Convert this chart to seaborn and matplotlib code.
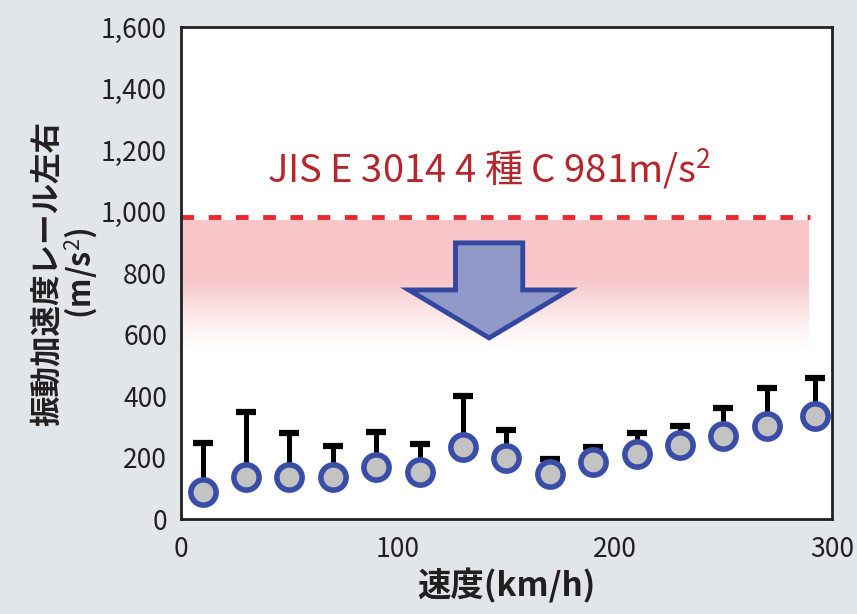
import numpy as np
import pandas as pd
import matplotlib
matplotlib.use("Agg")
import matplotlib.pyplot as plt
import matplotlib.patches as mpatches
import seaborn as sns

# data
speed = [10, 30, 50, 70, 90, 110, 130, 150, 170, 190, 210, 230, 250, 270, 292]
accel_mean = [89, 136, 136, 138, 170, 154, 235, 200, 146, 186, 211, 241, 270, 302, 335]
accel_max = [247, 349, 279, 237, 284, 244, 400, 289, 194, 235, 281, 302, 360, 425, 457]
limit = 981
limit_label = "JIS E 3014 4 種 C 981m/s$^2$"

df = pd.DataFrame({"speed": speed, "mean": accel_mean, "max": accel_max})

sns.set_theme(style="white")
plt.rcParams["font.family"] = ["Noto Sans CJK JP", "DejaVu Sans"]
plt.rcParams["mathtext.fontset"] = "custom"
plt.rcParams["mathtext.rm"] = "Noto Sans CJK JP"

bg = "#e2e6ea"
txt = "#231f20"
fig = plt.figure(figsize=(8.57, 6.14), dpi=100, facecolor=bg)
ax = fig.add_axes([0.2112, 0.1547, 0.7596, 0.8013])
ax.set_facecolor("white")

# pink band under the limit, fading downward
band_lo, band_hi = 540, 972
grad = np.linspace(0, 1, 200)
alpha = np.clip(grad / 0.55, 0, 1) ** 1.3 * 0.30
rgba = np.zeros((200, 1, 4))
rgba[..., 0] = 0.91
rgba[..., 1] = 0.26
rgba[..., 2] = 0.30
rgba[..., 3] = alpha[:, None]
ax.imshow(rgba, extent=[0, 289, band_lo, band_hi], origin="lower",
          aspect="auto", zorder=1, interpolation="bilinear")

# limit line
ax.hlines(limit, 0, 290, colors="#e8282c", linestyles=(0, (2.6, 3.0)),
          linewidth=3.5, zorder=2)
ax.text(142, 1135, limit_label, color="#b5262d", fontsize=27.5,
        ha="center", va="center", zorder=4)

# arrow
arrow = mpatches.FancyArrow(142, 898, 0, -309, width=31, head_width=74,
                            head_length=156, length_includes_head=True,
                            facecolor="#9199c9", edgecolor="#3346a0",
                            linewidth=3.5, zorder=3)
ax.add_patch(arrow)

# error bars (upper only) and points
ax.errorbar(df["speed"], df["mean"],
            yerr=[np.zeros(len(df)), df["max"] - df["mean"]],
            fmt="none", ecolor="black", elinewidth=3.6, capsize=7,
            capthick=4.5, zorder=4)
sns.scatterplot(data=df, x="speed", y="mean", ax=ax, s=330,
                color="#c3c3c3", edgecolor="#3a4ea8", linewidth=4,
                zorder=5, legend=False)

ax.set_xlim(0, 300)
ax.set_ylim(0, 1600)
ax.set_xticks([0, 100, 200, 300])
ax.set_yticks(range(0, 1601, 200))
ax.set_yticklabels([f"{v:,}" for v in range(0, 1601, 200)])
ax.tick_params(direction="in", length=6, width=2, colors="black",
               labelcolor=txt, labelsize=19, pad=10)
ax.tick_params(axis="x", pad=12)
for s in ax.spines.values():
    s.set_color("#222222")
    s.set_linewidth(2)

ax.set_xlabel("速度(km/h)", fontsize=24, fontweight="bold", color=txt,
              labelpad=4)
ax.set_ylabel("振動加速度レール左右\n(m/s$^2$)", fontsize=22, color=txt,
              fontweight="bold", labelpad=0, linespacing=1.0)

fig.savefig("out.png", dpi=100, facecolor=bg)
